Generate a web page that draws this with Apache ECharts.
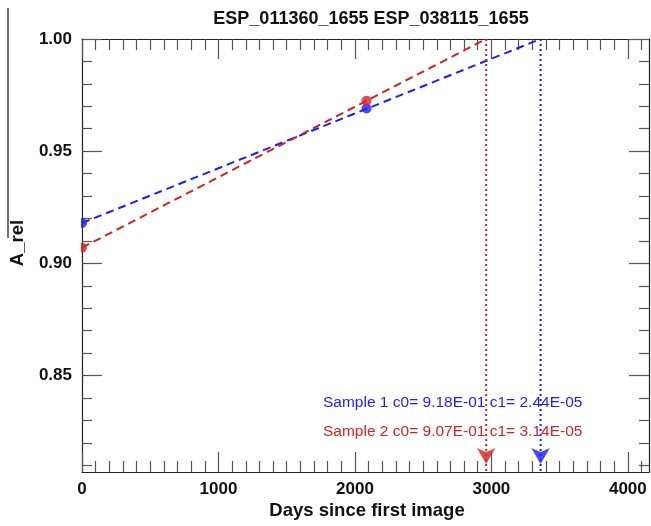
<!DOCTYPE html>
<html>
<head>
<meta charset="utf-8">
<script src="https://cdn.jsdelivr.net/npm/echarts@6/dist/echarts.min.js"></script>
<style>
  html, body { margin: 0; padding: 0; background: #ffffff; }
  #chart { width: 651px; height: 526px; }
</style>
</head>
<body>
<div id="chart"></div>
<script>
// Plot text
const titleText = 'ESP_011360_1655 ESP_038115_1655';
const xName = 'Days since first image';
const yName = 'A_rel';

// Axis ranges and tick labels
const xRange = [0, 4155];
const yRange = [0.807, 1.0];
const xMajorTicks = [0, 1000, 2000, 3000, 4000];
const yMajorTicks = [0.85, 0.90, 0.95, 1.00];

// Observations (days since first image, relative albedo)
const obsDays = [0, 2085];
const sample1Values = [0.918, 0.969];
const sample2Values = [0.907, 0.9725];

// Linear fit coefficients: A_rel = c0 + c1 * days
const sample1Coef = [9.18E-01, 2.44E-05];
const sample2Coef = [9.07E-01, 3.14E-05];

const blue = '#1c1cff';
const red = '#d42222';
const font = 'Liberation Sans, Arial, Helvetica, sans-serif';

// minor ticks every 100 days / every 0.01
const xMinorTicks = [];
for (let v = 100; v < xRange[1]; v += 100) if (v % 1000 !== 0) xMinorTicks.push(v);
const yMinorTicks = [];
for (let k = Math.ceil(yRange[0] * 100); k < 100; k++) if (k % 5 !== 0) yMinorTicks.push(k / 100);

// day at which each fit reaches A_rel = 1
function reachDay(coef) { return (1 - coef[0]) / coef[1]; }
function fitLine(coef) { return [[0, coef[0]], [reachDay(coef), 1]]; }
function fmtE(v) {
  const e = v.toExponential(2).split('e');
  const exp = parseInt(e[1], 10);
  return e[0] + 'E' + (exp < 0 ? '-' : '+') + String(Math.abs(exp)).padStart(2, '0');
}
function coefText(n, coef) {
  return 'Sample ' + n + ' c0= ' + fmtE(coef[0]) + ' c1= ' + fmtE(coef[1]);
}

const axisColor = '#222';
const tickColor = '#555';
const gridBox = { left: 82, right: 2, top: 39, bottom: 54 };

function xAxisDef(grid, pos, ticks, len, showLabel, showLine) {
  return {
    type: 'value', gridIndex: grid, position: pos, min: xRange[0], max: xRange[1],
    axisLine: { show: showLine, onZero: false, lineStyle: { color: axisColor, width: 1.2 } },
    axisTick: { show: true, inside: true, length: len, customValues: ticks,
                lineStyle: { color: tickColor, width: 1.2 } },
    axisLabel: { show: showLabel, customValues: ticks, margin: 9,
                 formatter: v => String(v),
                 fontFamily: font, fontWeight: 'bold', fontSize: 17, color: '#111' },
    splitLine: { show: false }
  };
}
function yAxisDef(grid, pos, ticks, len, showLabel, showLine) {
  return {
    type: 'value', gridIndex: grid, position: pos, min: yRange[0], max: yRange[1],
    axisLine: { show: showLine, onZero: false, lineStyle: { color: axisColor, width: 1.2 } },
    axisTick: { show: true, inside: true, length: len, customValues: ticks,
                lineStyle: { color: tickColor, width: 1.2 } },
    axisLabel: { show: showLabel, customValues: ticks, margin: 10,
                 formatter: v => v.toFixed(2),
                 fontFamily: font, fontWeight: 'bold', fontSize: 17, color: '#111' },
    splitLine: { show: false }
  };
}

function arrowSeries(coef, color) {
  const d = reachDay(coef);
  return [
    {
      type: 'line', data: [[d, 1], [d, yRange[0]]], symbol: 'none',
      lineStyle: { color: color, width: 2, type: [2, 3] }, z: 3
    },
    {
      type: 'scatter', data: [[d, yRange[0]]], symbol: 'arrow',
      symbolSize: [14, 16], symbolRotate: 180, symbolOffset: [0, -8],
      itemStyle: { color: color }, z: 4
    }
  ];
}

const chart = echarts.init(document.getElementById('chart'), null, { renderer: 'canvas' });
chart.setOption({
  animation: false,
  backgroundColor: '#ffffff',
  title: {
    text: titleText, left: 366, top: 5, textAlign: 'center',
    textStyle: { fontFamily: font, fontWeight: 'bold', fontSize: 18, color: '#111' }
  },
  // grid 0 carries the labelled major ticks, grid 1 (same box) the minor ticks
  grid: [Object.assign({}, gridBox), Object.assign({}, gridBox)],
  xAxis: [
    xAxisDef(0, 'bottom', xMajorTicks, 20, true, true),
    xAxisDef(0, 'top', xMajorTicks, 20, false, true),
    xAxisDef(1, 'bottom', xMinorTicks, 11, false, false),
    xAxisDef(1, 'top', xMinorTicks, 11, false, false)
  ],
  yAxis: [
    yAxisDef(0, 'left', yMajorTicks, 20, true, true),
    yAxisDef(0, 'right', yMajorTicks, 20, false, true),
    yAxisDef(1, 'left', yMinorTicks, 10, false, false),
    yAxisDef(1, 'right', yMinorTicks, 10, false, false)
  ],
  graphic: [
    { type: 'line', shape: { x1: 8, y1: 8, x2: 8, y2: 238 }, style: { stroke: '#111', lineWidth: 1.2 } },
    // masks the part of the day-0 dots that falls left of the plot frame
    { type: 'rect', z: 100, shape: { x: 66, y: 212, width: 15, height: 44 }, style: { fill: '#ffffff' } },
    { type: 'text', x: 18, y: 243, rotation: Math.PI / 2,
      style: { text: yName, fontFamily: font, fontWeight: 'bold', fontSize: 18.5, fill: '#111',
               textAlign: 'center', textVerticalAlign: 'middle' } },
    { type: 'text', x: 367, y: 511,
      style: { text: xName, fontFamily: font, fontWeight: 'bold', fontSize: 18.5, fill: '#111',
               textAlign: 'center', textVerticalAlign: 'middle' } },
    { type: 'text', x: 323, y: 403, z: 10,
      style: { text: coefText(1, sample1Coef), fontFamily: font, fontSize: 15.5, fill: blue,
               textAlign: 'left', textVerticalAlign: 'middle' } },
    { type: 'text', x: 323, y: 432, z: 10,
      style: { text: coefText(2, sample2Coef), fontFamily: font, fontSize: 15.5, fill: red,
               textAlign: 'left', textVerticalAlign: 'middle' } }
  ],
  series: [
    {
      type: 'line', data: fitLine(sample1Coef), symbol: 'none',
      lineStyle: { color: blue, width: 2, type: [8, 5] }, z: 3
    },
    {
      type: 'line', data: fitLine(sample2Coef), symbol: 'none',
      lineStyle: { color: red, width: 2, type: [8, 5] }, z: 3
    },
    {
      type: 'scatter', data: obsDays.map((d, i) => [d, sample1Values[i]]),
      symbol: 'circle', symbolSize: 10, itemStyle: { color: blue }, z: 5
    },
    {
      type: 'scatter', data: obsDays.map((d, i) => [d, sample2Values[i]]),
      symbol: 'circle', symbolSize: 10, itemStyle: { color: red }, z: 5
    },
    ...arrowSeries(sample1Coef, blue),
    ...arrowSeries(sample2Coef, red)
  ]
});
</script>
</body>
</html>
